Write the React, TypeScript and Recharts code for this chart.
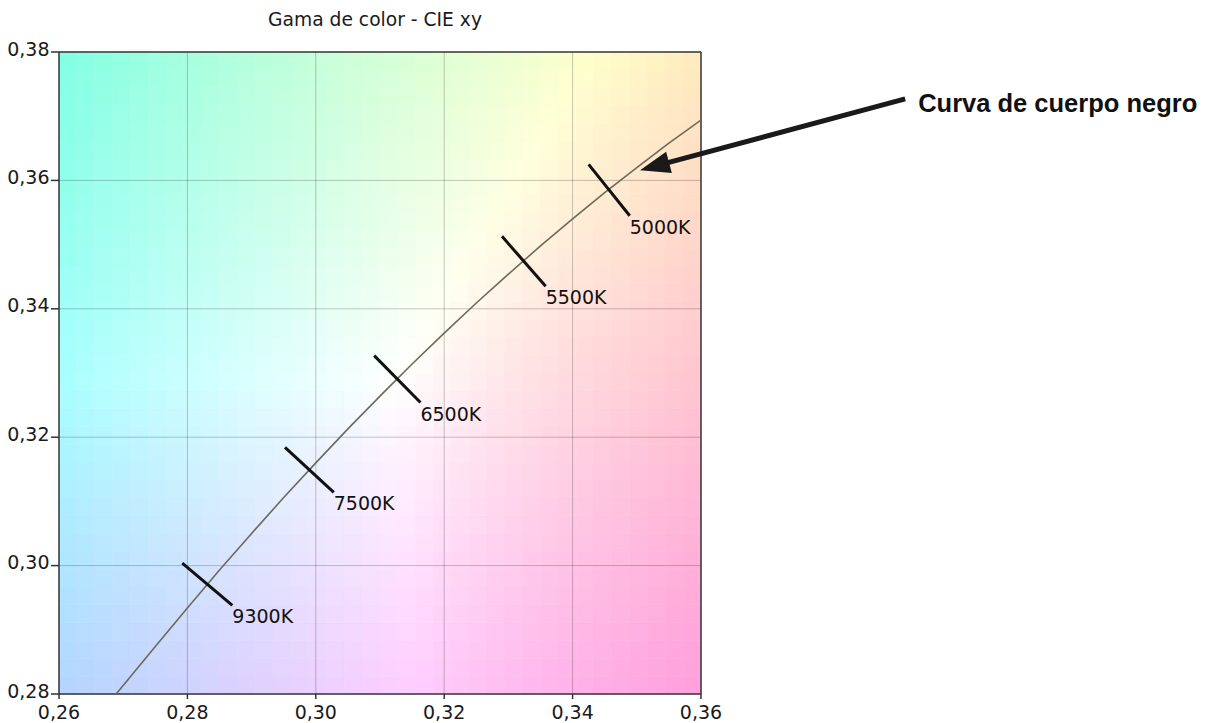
import React from 'react';
import { ScatterChart, Scatter, XAxis, YAxis, ReferenceArea, ReferenceLine } from 'recharts';

const TITLE = 'Gama de color - CIE xy';
const X_TICKS = [0.26, 0.28, 0.3, 0.32, 0.34, 0.36];
const Y_TICKS = [0.28, 0.3, 0.32, 0.34, 0.36, 0.38];

// Daylight (black-body style) curve
const LOCUS_X = [0.2689, 0.275, 0.28, 0.285, 0.29, 0.295, 0.3, 0.305, 0.31, 0.315, 0.32, 0.325, 0.33, 0.335, 0.34, 0.345, 0.35, 0.355, 0.36];
const LOCUS_Y = [0.28, 0.2874, 0.2934, 0.2993, 0.305, 0.3106, 0.316, 0.3213, 0.3264, 0.3314, 0.3362, 0.3409, 0.3454, 0.3498, 0.354, 0.3581, 0.362, 0.3658, 0.3694];

// Colour temperature markers: label and the two ends of each crossing stroke
const MARKER_LABELS = ['9300K', '7500K', '6500K', '5500K', '5000K'];
const MARKER_X1 = [0.2792, 0.2952, 0.3091, 0.329, 0.3425];
const MARKER_Y1 = [0.3004, 0.3184, 0.3327, 0.3513, 0.3625];
const MARKER_X2 = [0.287, 0.3028, 0.3163, 0.3358, 0.3489];
const MARKER_Y2 = [0.2938, 0.3114, 0.3254, 0.3435, 0.3545];

const ANNOTATION = 'Curva de cuerpo negro';
const ARROW_TAIL = { x: 0.3918, y: 0.3727 };
const ARROW_TIP = { x: 0.3505, y: 0.3616 };

const X_DOMAIN: [number, number] = [0.26, 0.36];
const Y_DOMAIN: [number, number] = [0.28, 0.38];

const FONT = '"DejaVu Sans", Verdana, sans-serif';

function gammaEncode(c: number) {
  const v = Math.max(0, Math.min(1, c));
  return v <= 0.0031308 ? 12.92 * v : 1.055 * Math.pow(v, 1 / 2.4) - 0.055;
}

function chromaColor(x: number, y: number) {
  const X = x / y;
  const Y = 1;
  const Z = (1 - x - y) / y;
  let r = 3.2406 * X - 1.5372 * Y - 0.4986 * Z;
  let g = -0.9689 * X + 1.8758 * Y + 0.0415 * Z;
  let b = 0.0557 * X - 0.204 * Y + 1.057 * Z;
  const m = Math.max(r, g, b);
  r /= m; g /= m; b /= m;
  r = 1 - (1 - Math.max(0, r)) * 0.94;
  const gg = Math.max(0, Math.min(1, g));
  b = Math.pow(Math.max(0, b), 1 - 0.5 * (1 - gg) - 0.45 * gg * gg * (1 - r));
  const to = (c: number) => Math.round(gammaEncode(c) * 255);
  return `rgb(${to(r)},${to(g)},${to(b)})`;
}

const GRID_N = 36;
const cells: { x1: number; x2: number; y1: number; y2: number; color: string }[] = [];
{
  const sx = (X_DOMAIN[1] - X_DOMAIN[0]) / GRID_N;
  const sy = (Y_DOMAIN[1] - Y_DOMAIN[0]) / GRID_N;
  for (let i = 0; i < GRID_N; i++) {
    for (let j = 0; j < GRID_N; j++) {
      const x1 = X_DOMAIN[0] + i * sx;
      const y1 = Y_DOMAIN[0] + j * sy;
      cells.push({ x1, x2: x1 + sx, y1, y2: y1 + sy, color: chromaColor(x1 + sx / 2, y1 + sy / 2) });
    }
  }
}

const locusData = LOCUS_X.map((x, i) => ({ x, y: LOCUS_Y[i] }));
const markerSegments = MARKER_LABELS.map((label, i) => [
  { x: MARKER_X1[i], y: MARKER_Y1[i] },
  { x: MARKER_X2[i], y: MARKER_Y2[i] },
]);
const markerLabelData = MARKER_LABELS.map((label, i) => ({ x: MARKER_X2[i], y: MARKER_Y2[i], label }));

const fmt = (v: number) => v.toFixed(2).replace('.', ',');

const NoShape = () => <g />;

const YTick = (props: any) => {
  const { x, y, payload } = props;
  return (
    <text x={x + 0.5} y={y + 3.5} textAnchor="end" fontFamily={FONT} fontSize={19} fill="#1a1a1a">
      {fmt(payload.value)}
    </text>
  );
};

const XTick = (props: any) => {
  const { x, y, payload } = props;
  return (
    <text x={x} y={y + 18} textAnchor="middle" fontFamily={FONT} fontSize={19} fill="#1a1a1a">
      {fmt(payload.value)}
    </text>
  );
};

const MarkerLabel = (props: any) => {
  const { cx, cy, payload } = props;
  return (
    <text x={cx} y={cy + 18} fontFamily={FONT} fontSize={19} fill="#111">
      {payload.label}
    </text>
  );
};

const ArrowShape = (props: any) => {
  const { x1, y1, x2, y2 } = props;
  const dx = x2 - x1;
  const dy = y2 - y1;
  const len = Math.sqrt(dx * dx + dy * dy) || 1;
  const ux = dx / len;
  const uy = dy / len;
  const headLen = 30;
  const headHalf = 11;
  const bx = x2 - ux * headLen;
  const by = y2 - uy * headLen;
  const px = -uy;
  const py = ux;
  return (
    <g>
      <line x1={x1} y1={y1} x2={bx + ux * 2} y2={by + uy * 2} stroke="#1a1a1a" strokeWidth={5} />
      <polygon
        points={`${x2},${y2} ${bx + px * headHalf},${by + py * headHalf} ${bx - px * headHalf},${by - py * headHalf}`}
        fill="#1a1a1a"
      />
      <text x={x1 + 13} y={y1 + 13} fontFamily='"Liberation Sans", Arial, sans-serif' fontWeight="bold" fontSize={25.5} fill="#111">
        {ANNOTATION}
      </text>
    </g>
  );
};

export default function App() {
  return (
    <div style={{ position: 'absolute', left: 0, top: 0, width: 1212, height: 723, background: '#fff' }}>
      <div
        style={{
          position: 'absolute',
          left: 175,
          top: 9,
          width: 400,
          height: 22,
          lineHeight: '22px',
          textAlign: 'center',
          fontFamily: FONT,
          fontSize: 18.7,
          color: '#1a1a1a',
        }}
      >
        {TITLE}
      </div>
      <ScatterChart width={1212} height={723} margin={{ top: 52, right: 511, bottom: 0, left: 0 }}>
        <XAxis
          type="number"
          dataKey="x"
          domain={X_DOMAIN}
          ticks={X_TICKS}
          allowDataOverflow
          height={29}
          tickSize={5}
          tick={<XTick />}
          stroke="#333"
          strokeWidth={1.5}
        />
        <YAxis
          type="number"
          dataKey="y"
          domain={Y_DOMAIN}
          ticks={Y_TICKS}
          allowDataOverflow
          width={59}
          tickSize={8}
          tick={<YTick />}
          stroke="#333"
          strokeWidth={1.5}
        />
        {cells.map((c, k) => (
          <ReferenceArea
            key={`c${k}`}
            x1={c.x1}
            x2={c.x2}
            y1={c.y1}
            y2={c.y2}
            fill={c.color}
            fillOpacity={1}
            stroke={c.color}
            strokeWidth={0.6}
          />
        ))}
        {X_TICKS.slice(1, -1).map((v) => (
          <ReferenceLine key={`gx${v}`} x={v} stroke="#000" strokeOpacity={0.22} strokeWidth={1} />
        ))}
        {Y_TICKS.slice(1, -1).map((v) => (
          <ReferenceLine key={`gy${v}`} y={v} stroke="#000" strokeOpacity={0.22} strokeWidth={1} />
        ))}
        <ReferenceLine x={X_DOMAIN[1]} stroke="#333" strokeWidth={1.5} />
        <ReferenceLine y={Y_DOMAIN[1]} stroke="#333" strokeWidth={1.5} />
        <Scatter
          data={locusData}
          fill="#6b6b58"
          line={{ stroke: '#6b6b58', strokeWidth: 1.6 }}
          shape={NoShape}
          isAnimationActive={false}
        />
        {markerSegments.map((seg, i) => (
          <Scatter
            key={`m${i}`}
            data={seg}
            fill="#111"
            line={{ stroke: '#111', strokeWidth: 3 }}
            shape={NoShape}
            isAnimationActive={false}
          />
        ))}
        <Scatter data={markerLabelData} fill="#111" shape={MarkerLabel} isAnimationActive={false} />
        <ReferenceLine
          segment={[ARROW_TAIL, ARROW_TIP]}
          ifOverflow="visible"
          shape={ArrowShape}
        />
      </ScatterChart>
    </div>
  );
}
